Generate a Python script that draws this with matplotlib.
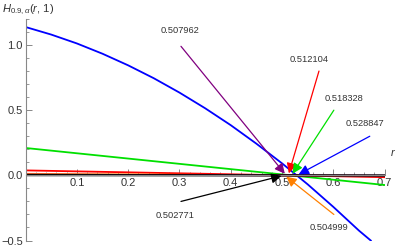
import matplotlib
matplotlib.use("Agg")
import matplotlib.pyplot as plt
from matplotlib.ticker import MultipleLocator

plt.rcParams['font.family'] = ['Liberation Sans', 'DejaVu Sans']
plt.rcParams['mathtext.fontset'] = 'custom'
plt.rcParams['mathtext.rm'] = 'Liberation Sans'
plt.rcParams['mathtext.it'] = 'Liberation Sans:italic'

# curve values
blue_x = [0.0, 0.05, 0.1, 0.15, 0.2, 0.25, 0.3, 0.35, 0.4, 0.45, 0.5, 0.55, 0.6, 0.65, 0.673]
blue_y = [1.138, 1.080, 1.012, 0.933, 0.844, 0.745, 0.635, 0.515, 0.385, 0.243,
          0.092, -0.069, -0.242, -0.424, -0.5]
line_x = [0.0, 0.7]
green_y = [0.21, -0.074]
red_y = [0.038, -0.014]
orange_y = [0.012, -0.005]
purple_y = [0.006, -0.0023]
black_y = [0.002, -0.0008]

# zero crossings and label positions
roots = [0.507962, 0.512104, 0.518328, 0.528847, 0.502771, 0.504999]
root_labels = ["0.507962", "0.512104", "0.518328", "0.528847", "0.502771", "0.504999"]
root_colors = ["#800080", "red", "#00e000", "blue", "black", "#ff8000"]
label_xy = [(0.301, 1.115), (0.553, 0.89), (0.621, 0.59), (0.662, 0.395),
            (0.291, -0.31), (0.592, -0.40)]
start_xy = [(0.303, 0.99), (0.572, 0.80), (0.601, 0.50), (0.671, 0.30),
            (0.303, -0.20), (0.601, -0.30)]

fig = plt.figure(figsize=(3.99, 2.49), dpi=100)
ax = fig.add_axes([0.064, 0.034, 0.900, 0.890])

ax.plot(blue_x, blue_y, color="blue", lw=1.3)
ax.plot(line_x, green_y, color="#00e000", lw=1.3)
ax.plot(line_x, red_y, color="red", lw=1.3)
ax.plot(line_x, orange_y, color="#ff8000", lw=1.3)
ax.plot(line_x, purple_y, color="#800080", lw=1.3)
ax.plot(line_x, black_y, color="black", lw=1.6)

for r, lab, c, lxy, sxy in zip(roots, root_labels, root_colors, label_xy, start_xy):
    ax.annotate("", xy=(r, 0), xytext=sxy,
                arrowprops=dict(arrowstyle="-|>,head_length=0.6,head_width=0.3",
                                color=c, lw=0.9, mutation_scale=10,
                                shrinkA=0, shrinkB=1.5))
    ax.text(lxy[0], lxy[1], lab, fontsize=6.7, color="#333333",
            ha="center", va="center")

ax.set_xlim(0, 0.7)
ax.set_ylim(-0.5, 1.2)
ax.spines['left'].set_position(('data', 0))
ax.spines['bottom'].set_position(('data', 0))
ax.spines['right'].set_visible(False)
ax.spines['top'].set_visible(False)
for s in ['left', 'bottom']:
    ax.spines[s].set_color("#888888")
    ax.spines[s].set_linewidth(0.8)

ax.xaxis.set_minor_locator(MultipleLocator(0.02))
ax.yaxis.set_minor_locator(MultipleLocator(0.1))
ax.set_xticks([0.1, 0.2, 0.3, 0.4, 0.5, 0.6, 0.7])
ax.set_xticklabels(["0.1", "0.2", "0.3", "0.4", "0.5", "0.6", "0.7"])
ax.set_yticks([-0.5, 0.0, 0.5, 1.0])
ax.set_yticklabels(["\u22120.5", "0.0", "0.5", "1.0"])
ax.tick_params(axis='both', which='major', direction='in', length=4,
               width=0.7, color="#888888", labelsize=8, labelcolor="#333333", pad=2)
ax.tick_params(axis='both', which='minor', direction='in', length=2,
               width=0.6, color="#888888")
ax.patch.set_visible(False)

ax.text(0.716, 0.17, "r", fontsize=8, style="italic", color="#333333",
        ha="center", va="center", clip_on=False)
fig.text(0.005, 0.99, r"$H_{0.9,\alpha}(r,\,1)$", fontsize=8, color="#333333",
         ha="left", va="top")

fig.savefig("out.png", dpi=100)
